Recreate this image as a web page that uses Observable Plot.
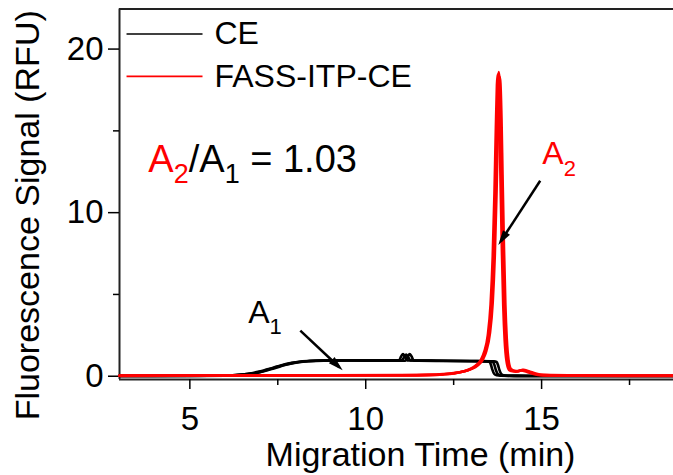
<!DOCTYPE html>
<html>
<head>
<meta charset="utf-8">
<script src="https://cdn.jsdelivr.net/npm/d3@7"></script>
<script src="https://cdn.jsdelivr.net/npm/@observablehq/plot@0.6"></script>
<style>
  html, body { margin: 0; padding: 0; background: #fff; }
  #chart { width: 673px; height: 475px; overflow: hidden; }
</style>
</head>
<body>
<div id="chart"></div>
<script>
// ---- data ----
const seriesNames = ["CE", "FASS-ITP-CE"];
const seriesColors = ["#000000", "#ff0000"];

// CE (three replicate runs)
const ceTime1 = [3, 5, 6, 6.4, 6.7, 6.9, 7.1, 7.3, 7.5, 7.7, 7.9, 8.1, 8.4, 8.8, 9.5, 10.5, 10.94, 11.01, 11.06, 11.11, 11.18, 11.3, 12, 13, 13.45, 13.52, 13.56, 13.6, 13.65, 13.72, 13.85, 14.2, 15, 17, 18.75];
const ceSig1  = [0.02, 0.02, 0.04, 0.08, 0.15, 0.22, 0.32, 0.45, 0.58, 0.7, 0.8, 0.87, 0.93, 0.96, 0.97, 0.96, 0.96, 1.22, 1.36, 1.22, 0.97, 0.96, 0.95, 0.93, 0.92, 0.88, 0.7, 0.4, 0.15, 0.06, 0.03, 0.02, 0.01, 0.01, 0.01];
const ceTime2 = [3, 5, 6, 6.4, 6.7, 6.9, 7.1, 7.3, 7.5, 7.7, 7.9, 8.1, 8.4, 8.8, 9.5, 10.5, 11.13, 11.2, 11.25, 11.3, 11.37, 11.5, 12, 13, 13.55, 13.62, 13.66, 13.7, 13.75, 13.82, 13.95, 14.3, 15, 17, 18.75];
const ceSig2  = [0.01, 0.02, 0.03, 0.07, 0.13, 0.2, 0.3, 0.42, 0.55, 0.68, 0.78, 0.86, 0.92, 0.95, 0.96, 0.95, 0.95, 1.22, 1.36, 1.22, 0.95, 0.95, 0.94, 0.92, 0.9, 0.86, 0.68, 0.38, 0.14, 0.05, 0.03, 0.02, 0.01, 0.01, 0.01];
const ceTime3 = [3, 5, 6, 6.4, 6.7, 6.9, 7.1, 7.3, 7.5, 7.7, 7.9, 8.1, 8.4, 8.8, 9.5, 10.5, 11.03, 11.1, 11.15, 11.2, 11.27, 11.4, 12, 13, 13.65, 13.72, 13.76, 13.8, 13.85, 13.92, 14.05, 14.4, 15, 17, 18.75];
const ceSig3  = [0.02, 0.03, 0.05, 0.09, 0.17, 0.25, 0.35, 0.48, 0.61, 0.73, 0.82, 0.89, 0.94, 0.97, 0.98, 0.97, 0.97, 1.2, 1.32, 1.2, 0.97, 0.96, 0.95, 0.93, 0.91, 0.87, 0.69, 0.39, 0.15, 0.06, 0.03, 0.02, 0.01, 0.01, 0.01];

// FASS-ITP-CE (three replicate runs)
const fassTime1 = [3, 6, 9, 11, 11.8, 12.2, 12.5, 12.8, 13.0, 13.15, 13.3, 13.4, 13.5, 13.58, 13.64, 13.69, 13.73, 13.76, 13.78, 13.8, 13.83, 13.86, 13.9, 13.94, 13.98, 14.03, 14.1, 14.2, 14.3, 14.45, 14.6, 14.8, 15, 16, 18.75];
const fassSig1  = [0.03, 0.04, 0.05, 0.06, 0.08, 0.12, 0.18, 0.3, 0.45, 0.65, 1.0, 1.5, 2.6, 4.5, 7.5, 11.5, 15.5, 18.0, 18.6, 18.2, 16.0, 12.5, 8.0, 4.5, 2.3, 1.0, 0.42, 0.32, 0.3, 0.38, 0.3, 0.15, 0.07, 0.04, 0.03];
const fassTime2 = [3, 6, 9, 11, 11.8, 12.2, 12.5, 12.8, 12.97, 13.12, 13.27, 13.37, 13.47, 13.55, 13.61, 13.66, 13.7, 13.73, 13.75, 13.77, 13.8, 13.83, 13.87, 13.91, 13.95, 14.0, 14.07, 14.17, 14.27, 14.42, 14.57, 14.77, 15, 16, 18.75];
const fassSig2  = [0.02, 0.03, 0.04, 0.05, 0.07, 0.11, 0.17, 0.3, 0.44, 0.64, 0.98, 1.5, 2.5, 4.4, 7.3, 11.2, 15.2, 17.8, 18.45, 18.0, 15.8, 12.2, 7.8, 4.3, 2.2, 0.95, 0.4, 0.3, 0.28, 0.36, 0.28, 0.14, 0.06, 0.03, 0.02];
const fassTime3 = [3, 6, 9, 11, 11.8, 12.2, 12.5, 12.8, 13.03, 13.18, 13.33, 13.43, 13.53, 13.61, 13.67, 13.72, 13.76, 13.79, 13.81, 13.83, 13.86, 13.89, 13.93, 13.97, 14.01, 14.06, 14.13, 14.23, 14.33, 14.48, 14.63, 14.83, 15.05, 16, 18.75];
const fassSig3  = [0.04, 0.05, 0.06, 0.07, 0.09, 0.13, 0.19, 0.31, 0.46, 0.66, 1.02, 1.55, 2.6, 4.5, 7.4, 11.3, 15.2, 17.6, 18.3, 17.9, 15.8, 12.3, 7.9, 4.4, 2.3, 1.0, 0.44, 0.33, 0.31, 0.39, 0.31, 0.16, 0.08, 0.05, 0.04];

// axes
const xDomain = [3, 18.75];
const yDomain = [-0.2, 22.45];
const xMajorTicks = [5, 10, 15];
const xMinorTicks = [7.5, 12.5, 17.5];
const yMajorTicks = [0, 10, 20];
const yMinorTicks = [5, 15];
const xLabel = "Migration Time (min)";
const yLabel = "Fluorescence Signal (RFU)";

// annotations (data units)
const ratioText = "A2/A1 = 1.03";
const ratioPos = {x: 3.82, y: 12.46};
const a2Text = "A2";
const a2Pos = {x: 15.02, y: 12.99};
const a1Text = "A1";
const a1Pos = {x: 6.66, y: 3.28};
const arrows = [
  {x1: 8.14, y1: 2.79, x2: 9.25, y2: 0.55},
  {x1: 14.96, y1: 11.95, x2: 13.84, y2: 8.25}
];
// legend placement (data units)
const legendLineX = [3.2, 5.36];
const legendTextX = 5.7;
const legendY = [20.92, 18.33];

// ---- build table ----
const runs = [
  {s: 0, t: ceTime1, v: ceSig1}, {s: 0, t: ceTime2, v: ceSig2}, {s: 0, t: ceTime3, v: ceSig3},
  {s: 1, t: fassTime1, v: fassSig1}, {s: 1, t: fassTime2, v: fassSig2}, {s: 1, t: fassTime3, v: fassSig3}
];
const rows = [];
runs.forEach((r, i) => r.t.forEach((t, j) => rows.push({series: seriesNames[r.s], run: i, time: t, signal: r.v[j]})));
const legendRows = seriesNames.map((name, i) => ({series: name, x1: legendLineX[0], x2: legendLineX[1], tx: legendTextX, y: legendY[i]}));

const font = "'Liberation Sans', Arial, Helvetica, sans-serif";

const chart = Plot.plot({
  width: 673,
  height: 475,
  marginLeft: 119,
  marginRight: 0,
  marginTop: 8.5,
  marginBottom: 96,
  style: {fontFamily: font, fontSize: "33px", color: "#000", background: "#fff", overflow: "visible"},
  x: {domain: xDomain},
  y: {domain: yDomain},
  color: {domain: seriesNames, range: seriesColors},
  marks: [
    // frame (left, bottom, top)
    Plot.ruleX([xDomain[0]], {stroke: "#222", strokeWidth: 2}),
    Plot.ruleY([yDomain[0], yDomain[1]], {stroke: "#222", strokeWidth: 2}),
    // axes
    Plot.axisX({ticks: xMajorTicks, tickSize: 10, tickPadding: 17, fontSize: 33, label: null, strokeWidth: 1.5}),
    Plot.axisX({ticks: xMinorTicks, tickSize: 6, tickFormat: () => "", label: null, strokeWidth: 1.5}),
    Plot.axisY({ticks: yMajorTicks, tickSize: 11, tickPadding: 5, fontSize: 33, label: null, strokeWidth: 1.5}),
    Plot.axisY({ticks: yMinorTicks, tickSize: 6, tickFormat: () => "", label: null, strokeWidth: 1.5}),
    Plot.text([xLabel], {frameAnchor: "bottom", textAnchor: "middle", lineAnchor: "middle", dx: 24, dy: 76, fontSize: 34, text: d => d}),
    Plot.text([yLabel], {frameAnchor: "left", textAnchor: "middle", lineAnchor: "middle", rotate: -90, dx: -91, dy: 21, fontSize: 34, text: d => d}),
    // traces
    Plot.line(rows.filter(d => d.series === seriesNames[0]), {x: "time", y: "signal", z: "run", stroke: "series", strokeWidth: 2.6, curve: "monotone-x"}),
    Plot.line(rows.filter(d => d.series === seriesNames[1]), {x: "time", y: "signal", z: "run", stroke: "series", strokeWidth: 2.6, curve: "monotone-x"}),
    // legend
    Plot.link(legendRows, {x1: "x1", x2: "x2", y1: "y", y2: "y", stroke: "series", strokeWidth: 1.6}),
    Plot.text(legendRows, {x: "tx", y: "y", text: "series", textAnchor: "start", fontSize: 32, fill: "#000"}),
    // annotations
    Plot.link(arrows, {x1: "x1", y1: "y1", x2: "x2", y2: "y2", stroke: "#000", strokeWidth: 2.5, markerEnd: "arrow"}),
    Plot.text([ratioText], {x: ratioPos.x, y: ratioPos.y, text: d => d, textAnchor: "start", lineAnchor: "bottom", fontSize: 38, fill: "#000"}),
    Plot.text([a2Text], {x: a2Pos.x, y: a2Pos.y, text: d => d, textAnchor: "start", lineAnchor: "bottom", fontSize: 32, fill: "#ff0000"}),
    Plot.text([a1Text], {x: a1Pos.x, y: a1Pos.y, text: d => d, textAnchor: "start", lineAnchor: "bottom", fontSize: 32, fill: "#000"})
  ]
});

// filled arrowheads
chart.querySelectorAll("marker").forEach(m => {
  m.setAttribute("viewBox", "-9 -4 13 8");
  m.setAttribute("markerUnits", "userSpaceOnUse");
  m.setAttribute("markerWidth", "16.9");
  m.setAttribute("markerHeight", "10.4");
  m.setAttribute("refX", "0");
  m.setAttribute("refY", "0");
  m.setAttribute("overflow", "visible");
  m.setAttribute("fill", "#000");
  m.setAttribute("stroke", "none");
  m.querySelectorAll("path").forEach(p => {
    p.setAttribute("d", "M-8,-3.2L3.5,0L-8,3.2Z");
    p.setAttribute("fill", "#000");
    p.setAttribute("stroke", "none");
  });
});

// turn digits into subscripts (text stays real text)
function subscriptify(textEl, parts) {
  while (textEl.firstChild) textEl.removeChild(textEl.firstChild);
  const ns = "http://www.w3.org/2000/svg";
  parts.forEach(p => {
    const ts = document.createElementNS(ns, "tspan");
    ts.textContent = p.t;
    if (p.fill) ts.setAttribute("fill", p.fill);
    if (p.size) ts.setAttribute("font-size", p.size);
    if (p.dy) ts.setAttribute("dy", p.dy);
    textEl.appendChild(ts);
  });
}
chart.querySelectorAll("text").forEach(el => {
  const s = el.textContent;
  if (s === ratioText) {
    subscriptify(el, [
      {t: "A", fill: "#ff0000"},
      {t: "2", fill: "#ff0000", size: 27, dy: 11},
      {t: "/A", dy: -11},
      {t: "1", size: 27, dy: 11},
      {t: " = 1.03", dy: -11}
    ]);
  } else if (s === a2Text) {
    subscriptify(el, [{t: "A"}, {t: "2", size: 22, dy: 12}]);
  } else if (s === a1Text) {
    subscriptify(el, [{t: "A"}, {t: "1", size: 22, dy: 11}]);
  }
});

document.getElementById("chart").appendChild(chart);
</script>
</body>
</html>
